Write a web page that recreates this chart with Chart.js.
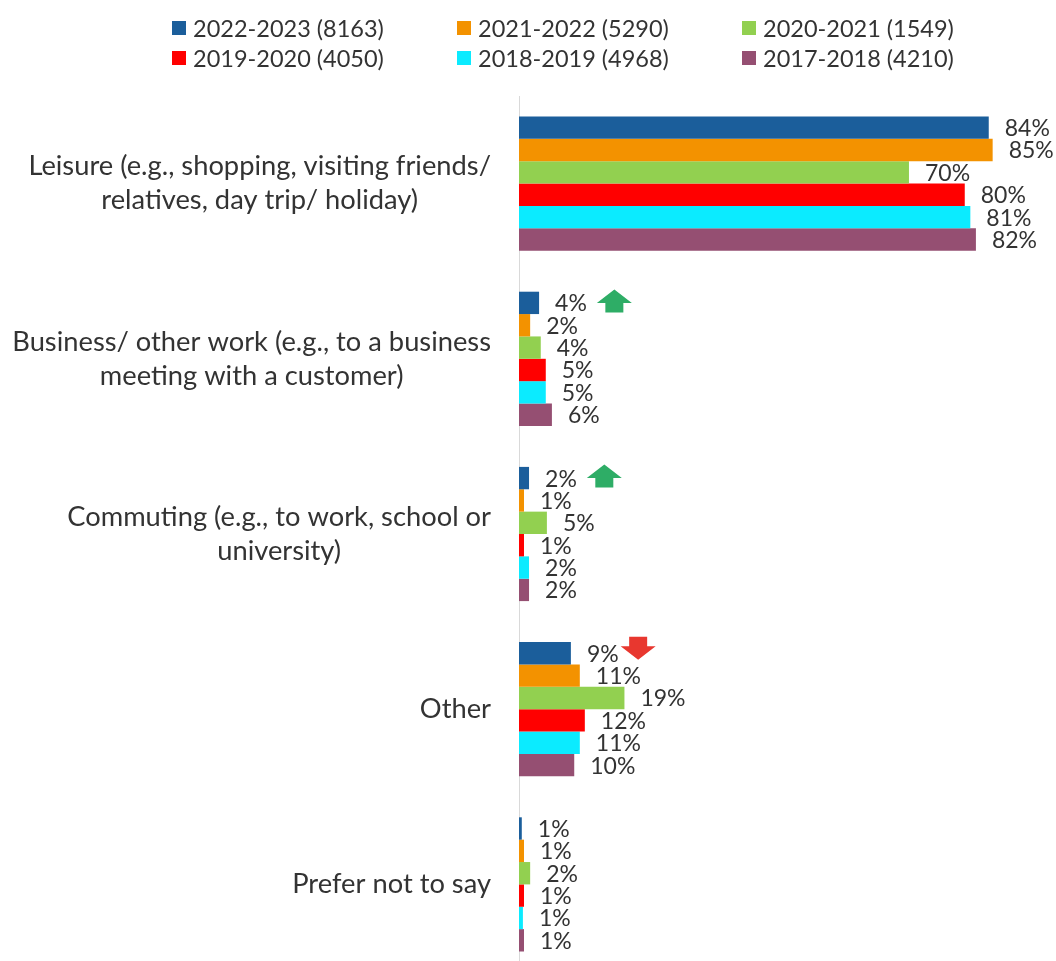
<!DOCTYPE html>
<html>
<head>
<meta charset="utf-8">
<script src="https://cdn.jsdelivr.net/npm/chart.js@4.4.0/dist/chart.umd.min.js"></script>
<style>
  html, body { margin: 0; padding: 0; background: #fff; overflow: hidden; }
  #wrap { position: relative; width: 1056px; height: 961px; }
  #legend {
    position: absolute; left: 172px; top: 13px; z-index: 2;
    display: grid; grid-template-columns: 285px 285px 285px;
    font-family: Lato, sans-serif; font-size: 23.5px; color: #333;
  }
  .item { display: flex; align-items: center; height: 30px; white-space: nowrap; }
  .box { width: 14px; height: 14px; margin-right: 7px; }
  canvas { position: absolute; left: 0; top: 0; }
</style>
</head>
<body>
<div id="wrap">
  <div id="legend"></div>
  <canvas id="chart" width="1056" height="975"></canvas>
</div>
<script>
// categories (each entry = wrapped lines)
const categories = [
  ["Leisure (e.g., shopping, visiting friends/", "relatives, day trip/ holiday)"],
  ["Business/ other work (e.g., to a business", "meeting with a customer)"],
  ["Commuting (e.g., to work, school or", "university)"],
  ["Other"],
  ["Prefer not to say"]
];

const seriesNames = [
  "2022-2023 (8163)", "2021-2022 (5290)", "2020-2021 (1549)",
  "2019-2020 (4050)", "2018-2019 (4968)", "2017-2018 (4210)"
];
const seriesColors = ["#1B5E9B", "#F39200", "#92D050", "#FF0000", "#0BEBFF", "#954F72"];

// % values per series
const y2022 = [84.2, 3.6, 1.8, 9.3, 0.5];
const y2021 = [84.9, 2.0, 0.9, 10.9, 0.9];
const y2020 = [69.9, 3.9, 5.0, 18.9, 2.0];
const y2019 = [79.9, 4.8, 0.9, 11.8, 0.9];
const y2018 = [80.9, 4.8, 1.8, 10.9, 0.7];
const y2017 = [81.9, 5.9, 1.8, 9.9, 0.9];
const seriesValues = [y2022, y2021, y2020, y2019, y2018, y2017];

// significance arrows shown next to the 2022-2023 labels
const trendArrows = [null, "up", "up", "down", null];

// legend
const legendEl = document.getElementById("legend");
seriesNames.forEach((name, i) => {
  const it = document.createElement("div");
  it.className = "item";
  it.innerHTML = '<span class="box" style="background:' + seriesColors[i] + '"></span>' + name;
  legendEl.appendChild(it);
});

function drawArrow(ctx, left, cy, dir) {
  const w = 35, h = 23, head = 13.5, stem = 18;
  const cx = left + w / 2;
  ctx.beginPath();
  if (dir === "up") {
    ctx.fillStyle = "#2EAD66";
    const top = cy - h / 2, base = top + head, bottom = cy + h / 2;
    ctx.moveTo(cx, top);
    ctx.lineTo(left + w, base);
    ctx.lineTo(cx + stem / 2, base);
    ctx.lineTo(cx + stem / 2, bottom);
    ctx.lineTo(cx - stem / 2, bottom);
    ctx.lineTo(cx - stem / 2, base);
    ctx.lineTo(left, base);
  } else {
    ctx.fillStyle = "#E8372F";
    const bottom = cy + h / 2, base = bottom - head, top = cy - h / 2;
    ctx.moveTo(cx, bottom);
    ctx.lineTo(left + w, base);
    ctx.lineTo(cx + stem / 2, base);
    ctx.lineTo(cx + stem / 2, top);
    ctx.lineTo(cx - stem / 2, top);
    ctx.lineTo(cx - stem / 2, base);
    ctx.lineTo(left, base);
  }
  ctx.closePath();
  ctx.fill();
}

const barLabels = {
  id: "barLabels",
  afterDatasetsDraw(chart) {
    const ctx = chart.ctx;
    ctx.save();
    ctx.font = "23px Lato";
    ctx.textBaseline = "middle";
    ctx.textAlign = "left";
    chart.data.datasets.forEach((ds, i) => {
      chart.getDatasetMeta(i).data.forEach((bar, j) => {
        const txt = Math.round(ds.data[j]) + "%";
        const x = bar.x + 16;
        ctx.fillStyle = "#333333";
        ctx.fillText(txt, x, bar.y + 1);
        if (i === 0 && trendArrows[j]) {
          const end = x + ctx.measureText(txt).width;
          if (trendArrows[j] === "up") drawArrow(ctx, end + 10, bar.y - 2, "up");
          else drawArrow(ctx, end + 2, bar.y - 5, "down");
        }
      });
    });
    ctx.restore();
  }
};

const categoryLabels = {
  id: "categoryLabels",
  afterDraw(chart) {
    const ctx = chart.ctx;
    const yScale = chart.scales.y;
    const right = chart.chartArea.left - 28;
    const lh = 34;
    ctx.save();
    ctx.font = "27.3px Lato";
    ctx.fillStyle = "#333333";
    ctx.textAlign = "center";
    ctx.textBaseline = "middle";
    categories.forEach((lines, j) => {
      const cy = yScale.getPixelForValue(j);
      const wMax = Math.max(...lines.map(l => ctx.measureText(l).width));
      const cx = right - wMax / 2;
      lines.forEach((l, k) => {
        ctx.fillText(l, cx, cy + (k - (lines.length - 1) / 2) * lh);
      });
    });
    ctx.restore();
  }
};

new Chart(document.getElementById("chart"), {
  type: "bar",
  data: {
    labels: categories.map(c => c.join(" ")),
    datasets: seriesNames.map((name, i) => ({
      label: name,
      data: seriesValues[i],
      backgroundColor: seriesColors[i],
      borderWidth: 0,
      barPercentage: 1,
      categoryPercentage: 0.766
    }))
  },
  options: {
    indexAxis: "y",
    responsive: false,
    animation: false,
    layout: { padding: { top: 96, right: 7, bottom: 3, left: 0 } },
    plugins: { legend: { display: false }, tooltip: { enabled: false } },
    scales: {
      x: { min: 0, max: 95, display: false },
      y: {
        afterFit(scale) { scale.width = 519; },
        grid: { display: false, drawTicks: false },
        border: { display: true, color: "#D9D9D9", width: 1 },
        ticks: { display: false }
      }
    }
  },
  plugins: [barLabels, categoryLabels]
});
</script>
</body>
</html>
